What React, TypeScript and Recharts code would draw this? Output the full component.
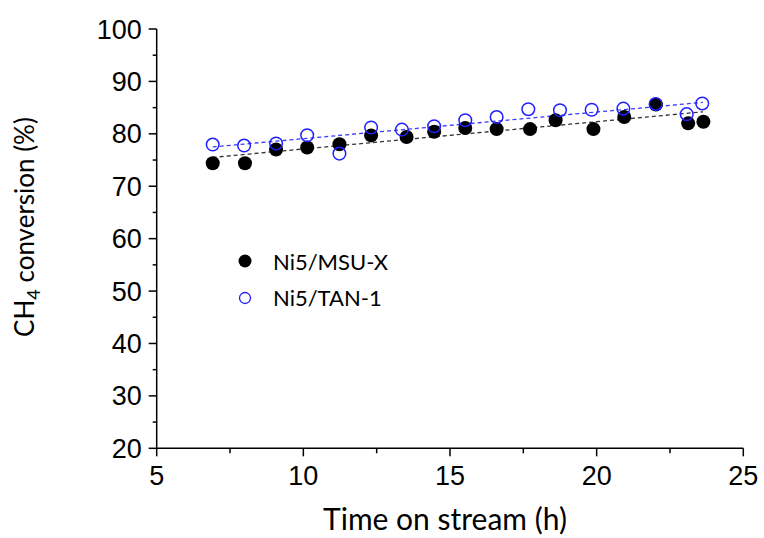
import React from "react";
import { ScatterChart, Scatter, XAxis, YAxis, Legend } from "recharts";

const msuTimes = [6.91, 8.01, 9.07, 10.13, 11.23, 12.31, 13.52, 14.46, 15.52, 16.59, 17.73, 18.6, 19.89, 20.94, 22.02, 23.12, 23.64];
const msuValues = [74.4, 74.4, 77.0, 77.4, 78.0, 79.7, 79.4, 80.4, 81.1, 80.9, 80.9, 82.6, 80.9, 83.2, 85.6, 82.0, 82.3];
const tanTimes = [6.91, 7.98, 9.07, 10.13, 11.23, 12.31, 13.36, 14.46, 15.52, 16.59, 17.67, 18.75, 19.83, 20.91, 22.01, 23.07, 23.6];
const tanValues = [77.95, 77.76, 78.15, 79.73, 76.23, 81.2, 80.8, 81.45, 82.6, 83.2, 84.7, 84.5, 84.6, 84.8, 85.7, 83.75, 85.8];

const fitTimes = [6.91, 23.62];
const msuFit = [75.5, 84.2];
const tanFit = [77.5, 86.0];

const xTicks = [5, 7.5, 10, 12.5, 15, 17.5, 20, 22.5, 25];
const yTicks = [20, 25, 30, 35, 40, 45, 50, 55, 60, 65, 70, 75, 80, 85, 90, 95, 100];
const xMajor = [5, 10, 15, 20, 25];
const yMajor = [20, 30, 40, 50, 60, 70, 80, 90, 100];

const msuData = msuTimes.map((x, i) => ({ x, y: msuValues[i] }));
const tanData = tanTimes.map((x, i) => ({ x, y: tanValues[i] }));
const msuFitData = fitTimes.map((x, i) => ({ x, y: msuFit[i] }));
const tanFitData = fitTimes.map((x, i) => ({ x, y: tanFit[i] }));

const TICK_FONT = "'Liberation Sans', Arial, sans-serif";
const TEXT_FONT = "Lato, 'Open Sans', sans-serif";
const BLUE = "#2020ff";

const X_TICK_SIZE = 8;
const X_TICK_MARGIN = 10;
const Y_TICK_SIZE = 8;
const Y_TICK_MARGIN = 7;

const XTick = (p: any) => {
  const v = p.payload.value;
  const major = xMajor.includes(v);
  const axisY = p.y - X_TICK_SIZE - X_TICK_MARGIN;
  return (
    <g>
      <line x1={p.x} x2={p.x} y1={axisY} y2={axisY + (major ? 8 : 5)} stroke="#000" strokeWidth={1.5} />
      {major && (
        <text x={p.x} y={p.y} dy="0.71em" textAnchor="middle" fontFamily={TICK_FONT} fontSize={27} fill="#000">
          {v}
        </text>
      )}
    </g>
  );
};

const YTick = (p: any) => {
  const v = p.payload.value;
  const major = yMajor.includes(v);
  const axisX = p.x + Y_TICK_SIZE + Y_TICK_MARGIN;
  return (
    <g>
      <line x1={axisX - (major ? 8 : 4)} x2={axisX} y1={p.y} y2={p.y} stroke="#000" strokeWidth={1.5} />
      {major && (
        <text x={p.x} y={p.y} dy="0.355em" textAnchor="end" fontFamily={TICK_FONT} fontSize={27} fill="#000">
          {v}
        </text>
      )}
    </g>
  );
};

const YLabel = () => {
  const cx = 34;
  const cy = 227;
  return (
    <text
      x={cx}
      y={cy}
      transform={`rotate(-90, ${cx}, ${cy})`}
      textAnchor="middle"
      fontFamily={TEXT_FONT}
      fontSize={26}
      fill="#000"
    >
      CH
      <tspan dy={6} fontSize={18}>4</tspan>
      <tspan dy={-6}> conversion (%)</tspan>
    </text>
  );
};

const XLabel = () => (
  <text x={445} y={530} textAnchor="middle" fontFamily={TEXT_FONT} fontSize={30} fill="#000">
    Time on stream (h)
  </text>
);

const LegendContent = () => (
  <svg width={200} height={75} style={{ overflow: "visible" }}>
    <circle cx={8} cy={16} r={6.5} fill="#000" />
    <text x={36} y={25} fontFamily={TEXT_FONT} fontSize={22} fill="#000">Ni5/MSU-X</text>
    <circle cx={8} cy={53} r={5.5} fill="none" stroke={BLUE} strokeWidth={1.3} />
    <text x={36} y={61} fontFamily={TEXT_FONT} fontSize={22} fill="#000">Ni5/TAN-1</text>
  </svg>
);

const blackDot = (p: any) => <circle cx={p.cx} cy={p.cy} r={7} fill="#000" />;
const blueRing = (p: any) => <circle cx={p.cx} cy={p.cy} r={6.3} fill="none" stroke={BLUE} strokeWidth={1.5} />;
const noShape = () => <g />;

export default function App() {
  return (
    <div style={{ position: "absolute", left: 0, top: 0, width: 764, height: 538, background: "#fff" }}>
      <ScatterChart width={764} height={538} margin={{ top: 29, right: 20.7, bottom: 0, left: 0 }}>
        <XAxis
          type="number"
          dataKey="x"
          domain={[5, 25]}
          ticks={xTicks}
          interval={0}
          height={89.7}
          tickSize={X_TICK_SIZE}
          tickMargin={X_TICK_MARGIN}
          tickLine={false}
          axisLine={{ stroke: "#000", strokeWidth: 1.5 }}
          tick={XTick}
          label={<XLabel />}
        />
        <YAxis
          type="number"
          dataKey="y"
          domain={[20, 100]}
          ticks={yTicks}
          interval={0}
          width={156.7}
          tickSize={Y_TICK_SIZE}
          tickMargin={Y_TICK_MARGIN}
          tickLine={false}
          axisLine={{ stroke: "#000", strokeWidth: 1.5 }}
          tick={YTick}
          label={<YLabel />}
        />
        <Scatter
          data={msuFitData}
          line={{ stroke: "#333", strokeWidth: 1.3, strokeDasharray: "4 3" }}
          shape={noShape}
          isAnimationActive={false}
          legendType="none"
        />
        <Scatter
          data={tanFitData}
          line={{ stroke: "#3a3aff", strokeWidth: 1.3, strokeDasharray: "4 3" }}
          shape={noShape}
          isAnimationActive={false}
          legendType="none"
        />
        <Scatter name="Ni5/MSU-X" data={msuData} shape={blackDot} isAnimationActive={false} />
        <Scatter name="Ni5/TAN-1" data={tanData} shape={blueRing} isAnimationActive={false} />
        <Legend
          layout="horizontal"
          verticalAlign="middle"
          align="center"
          wrapperStyle={{ left: 237, top: 245, width: 200, height: 75 }}
          content={<LegendContent />}
        />
      </ScatterChart>
    </div>
  );
}
